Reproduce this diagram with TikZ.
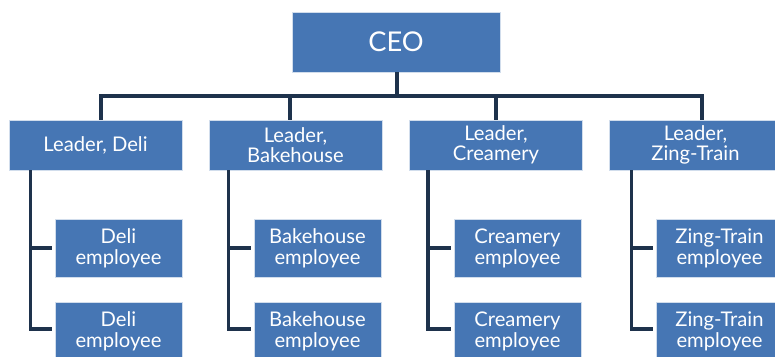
\documentclass[tikz,border=0pt]{standalone}
\usepackage{fontspec}
\setmainfont{Lato}
\definecolor{boxblue}{RGB}{70,118,180}
\definecolor{linenavy}{RGB}{30,50,76}
\tikzset{
    box/.style={draw=white!75!boxblue, line width=0.4pt, fill=boxblue, text=white, align=center, inner sep=0pt},
    ceobox/.style={box, minimum width=4.16cm, minimum height=1.2cm, font=\fontsize{15.5}{18}\selectfont},
    leadbox/.style={box, minimum width=3.46cm, minimum height=1cm, font=\fontsize{11.5}{11.5}\selectfont},
    empbox/.style={box, minimum width=2.54cm, minimum height=1.16cm, font=\fontsize{11.5}{12}\selectfont},
    conn/.style={draw=linenavy, line width=1.9pt},
}
\begin{document}
\begin{tikzpicture}[x=0.02cm, y=-0.02cm]
    \clip (0,0) rectangle (775,356);
    \fill[white] (0,0) rectangle (775,356);

    % top
    \node[ceobox] (ceo) at (396,42) {CEO};
    \coordinate (bus) at (397,96);

    % leaders
    \node[leadbox] (deli) at (95.5,145) {Leader, Deli};
    \node[leadbox] (bake) at (295.5,145) {Leader,\\Bakehouse};
    \node[leadbox] (cream) at (496,145) {Leader,\\Creamery};
    \node[leadbox] (zing) at (695.5,145) {Leader,\\Zing-Train};

    \draw[conn] ([xshift=0.02cm]ceo.south) -- (bus);
    \draw[conn] (bus) -| ([xshift=0.11cm]deli.north);
    \draw[conn] (bus) -| ([xshift=-0.11cm]bake.north);
    \draw[conn] (bus) -| (cream.north);
    \draw[conn] (bus) -| ([xshift=0.13cm]zing.north);

    % Deli
    \node[empbox] (deli1) at (118.5,248) {Deli\\employee};
    \node[empbox] (deli2) at (118.5,331) {Deli\\employee};
    \draw[conn] ([xshift=0.44cm]deli.south west) |- ([xshift=-0.06cm]deli1.west);
    \draw[conn] ([xshift=0.44cm]deli.south west) |- ([xshift=-0.06cm,yshift=0.04cm]deli2.west);

    % Bakehouse
    \node[empbox] (bake1) at (317.5,248) {Bakehouse\\employee};
    \node[empbox] (bake2) at (317.5,331) {Bakehouse\\employee};
    \draw[conn] ([xshift=0.4cm]bake.south west) |- ([xshift=-0.06cm]bake1.west);
    \draw[conn] ([xshift=0.4cm]bake.south west) |- ([xshift=-0.06cm,yshift=0.04cm]bake2.west);

    % Creamery
    \node[empbox] (cream1) at (517.5,248) {Creamery\\employee};
    \node[empbox] (cream2) at (517.5,331) {Creamery\\employee};
    \draw[conn] ([xshift=0.38cm]cream.south west) |- ([xshift=-0.06cm]cream1.west);
    \draw[conn] ([xshift=0.38cm]cream.south west) |- ([xshift=-0.06cm,yshift=0.04cm]cream2.west);

    % Zing-Train
    \node[empbox] (zing1) at (719.5,248) {Zing-Train\\employee};
    \node[empbox] (zing2) at (719.5,331) {Zing-Train\\employee};
    \draw[conn] ([xshift=0.46cm]zing.south west) |- ([xshift=-0.06cm]zing1.west);
    \draw[conn] ([xshift=0.46cm]zing.south west) |- ([xshift=-0.06cm,yshift=0.04cm]zing2.west);
\end{tikzpicture}
\end{document}
